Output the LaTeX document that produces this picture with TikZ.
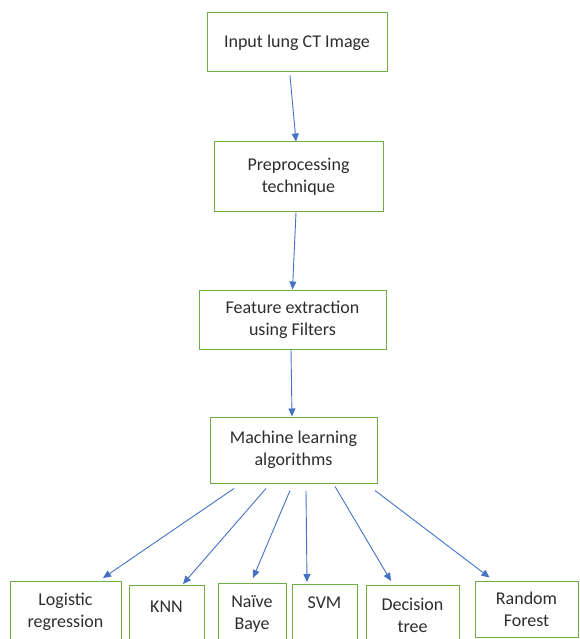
\documentclass[tikz,border=0pt]{standalone}
\usepackage{fontspec}
\setmainfont{Carlito}
\usetikzlibrary{arrows.meta}
\definecolor{boxgreen}{RGB}{112,173,71}
\definecolor{arrowblue}{RGB}{68,114,196}
\definecolor{textgray}{RGB}{45,45,45}
\tikzset{
  stage/.style={draw=boxgreen, line width=1pt, rectangle, align=center, text=textgray, font=\fontsize{18}{22}\selectfont, inner sep=0pt},
  algo/.style={stage, anchor=north, text height=35pt, text depth=20pt, inner ysep=11pt},
  oneline/.style={text height=13pt, text depth=42pt},
  flow/.style={draw=arrowblue, line width=0.9pt, -{Triangle[width=7pt,length=8pt]}}
}
\begin{document}
\begin{tikzpicture}[x=1pt, y=-1pt]
\useasboundingbox (0,0) rectangle (579,639);
% Pipeline stages
\node[stage, minimum width=180, minimum height=59] (input) at (297,42.5) {Input lung CT Image};
\node[stage, minimum width=169, minimum height=69] (pre) at (298.5,176.5) {Preprocessing\\technique};
\node[stage, minimum width=187, minimum height=59] (feat) at (292.5,319.5) {Feature extraction\\using Filters};
\node[stage, minimum width=167, minimum height=66] (ml) at (293.5,450) {Machine learning\\algorithms};

% Classifiers
\node[algo, minimum width=111] (logreg) at (65.5,581) {Logistic\\regression};
\node[algo, oneline, minimum width=75, inner ysep=14pt] (knn) at (166.5,585) {KNN};
\node[algo, minimum width=68] (nb) at (252,583) {Na\symbol{"00EF}ve\\Baye};
\node[algo, oneline, minimum width=65] (svm) at (324.5,584) {SVM};
\node[algo, minimum width=93, inner ysep=12pt] (dt) at (412.5,585) {Decision\\tree};
\node[stage, minimum width=103, minimum height=56] (rf) at (526.5,609) {Random\\Forest};

% Connections
\draw[flow] ([xshift=-7pt,yshift=-3pt]input.south) -- ([xshift=-2.5pt]pre.north);
\draw[flow] ([xshift=-2.5pt,yshift=-1pt]pre.south) -- (feat.north);
\draw[flow] ([xshift=-1.5pt]feat.south) -- ([xshift=-1.5pt]ml.north);
\draw[flow] ([xshift=-59.5pt,yshift=-5pt]ml.south) -- ([xshift=37.5pt,yshift=3pt]logreg.north);
\draw[flow] ([xshift=-27.5pt,yshift=-5pt]ml.south) -- ([xshift=16.5pt,yshift=1pt]knn.north);
\draw[flow] ([xshift=-3.5pt,yshift=-7pt]ml.south) -- ([xshift=1pt,yshift=5pt]nb.north);
\draw[flow] ([xshift=12.5pt,yshift=-7pt]ml.south) -- ([xshift=-17.5pt,yshift=2pt]svm.north);
\draw[flow] ([xshift=41.5pt,yshift=-3pt]ml.south) -- ([xshift=-21.5pt,yshift=4pt]dt.north);
\draw[flow] ([xshift=81.5pt,yshift=-7pt]ml.south) -- ([xshift=-37pt,yshift=3pt]rf.north);
\end{tikzpicture}
\end{document}
